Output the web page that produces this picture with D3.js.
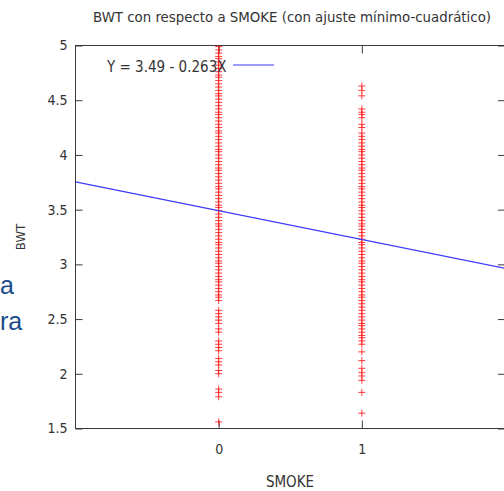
<!DOCTYPE html>
<html>
<head>
<meta charset="utf-8">
<script src="https://cdn.jsdelivr.net/npm/d3@7"></script>
<style>
  html, body { margin: 0; padding: 0; background: #fff; }
  svg { display: block; }
  text.cond { font-family: "DejaVu Sans Condensed", "DejaVu Sans", sans-serif; }
  text.slide { font-family: "Liberation Sans", Arial, sans-serif; }
</style>
</head>
<body>
<svg id="chart" width="504" height="491"></svg>
<script>
// Birth weight (kg) observed for non-smoking mothers (SMOKE = 0)
const bwtSmoke0 = [
  1.56, 1.79, 1.83, 1.86, 2.00, 2.03, 2.08, 2.11, 2.14, 2.21, 2.24, 2.27, 2.30,
  2.38, 2.41, 2.46, 2.49, 2.52, 2.55, 2.58, 2.67, 2.70,
  2.72, 2.75, 2.78, 2.81, 2.84, 2.86, 2.89, 2.92, 2.95, 2.98, 3.01, 3.03, 3.06,
  3.09, 3.12, 3.15, 3.18, 3.20, 3.23, 3.26, 3.29, 3.32, 3.35, 3.37, 3.40, 3.43,
  3.46, 3.49, 3.52, 3.54, 3.57, 3.60, 3.63, 3.66, 3.69, 3.71, 3.74, 3.77, 3.80,
  3.83, 3.86, 3.88, 3.91, 3.94, 3.97, 4.00, 4.03, 4.05, 4.08, 4.11, 4.14, 4.17,
  4.20, 4.22, 4.25, 4.28, 4.31, 4.34, 4.37, 4.39, 4.42, 4.45, 4.48, 4.51, 4.54,
  4.56, 4.59, 4.62, 4.65, 4.68, 4.71, 4.73, 4.76, 4.79, 4.82, 4.85, 4.88, 4.90,
  4.93, 4.96, 4.99
];
// Birth weight (kg) observed for smoking mothers (SMOKE = 1)
const bwtSmoke1 = [
  1.64, 1.83, 1.94, 1.98, 2.01, 2.05, 2.12, 2.20,
  2.27, 2.30, 2.33, 2.35, 2.38, 2.41, 2.44, 2.46, 2.49, 2.52, 2.55, 2.58, 2.61,
  2.64, 2.67, 2.70, 2.72, 2.75, 2.78, 2.81, 2.84, 2.86, 2.89, 2.92, 2.95, 2.98,
  3.01, 3.03, 3.06, 3.09, 3.12, 3.15, 3.18, 3.20, 3.23, 3.26, 3.29, 3.32, 3.35,
  3.37, 3.40, 3.43, 3.46, 3.49, 3.52, 3.54, 3.57, 3.60, 3.63, 3.66, 3.69, 3.71,
  3.74, 3.77, 3.80, 3.83, 3.86, 3.88, 3.91, 3.94, 3.97, 4.00, 4.03, 4.05, 4.08,
  4.11, 4.14, 4.17, 4.20, 4.25, 4.28, 4.34, 4.37, 4.39, 4.42,
  4.54, 4.59, 4.63
];
const smokeGroups = [0, 1];
const xTicks = [0, 1];
const yTicks = [1.5, 2, 2.5, 3, 3.5, 4, 4.5, 5];
// Least-squares fit: Y = a + b X
const fitIntercept = 3.49;
const fitSlope = -0.263;
const fitLabel = "Y = 3.49 - 0.263X";
const titleText = "BWT con respecto a SMOKE (con ajuste mínimo-cuadrático)";

const svg = d3.select("#chart");
const plot = { left: 75.5, right: 505, top: 45.5, bottom: 428.5 };

const x = d3.scaleLinear().domain([-1, 2]).range([plot.left, plot.right]);
const y = d3.scaleLinear().domain([1.5, 5]).range([plot.bottom, plot.top]);

const axisColor = "#3a3a3a";
const textColor = "#333";

// Side text from the surrounding slide
const slide = svg.append("g").attr("fill", "#1b4d8a");
slide.append("text").attr("class", "slide").attr("x", 0).attr("y", 294)
  .attr("font-size", 25).text("a");
slide.append("text").attr("class", "slide").attr("x", 0).attr("y", 330)
  .attr("font-size", 25).text("ra");

// Title
svg.append("text").attr("class", "cond")
  .attr("x", 292).attr("y", 22)
  .attr("text-anchor", "middle").attr("font-size", 14.5).attr("fill", textColor)
  .attr("textLength", 398).attr("lengthAdjust", "spacingAndGlyphs")
  .text(titleText);

svg.append("clipPath").attr("id", "plotclip").append("rect")
  .attr("x", plot.left).attr("y", plot.top)
  .attr("width", plot.right - plot.left).attr("height", plot.bottom - plot.top);

// Frame
svg.append("rect")
  .attr("x", plot.left).attr("y", plot.top)
  .attr("width", plot.right - plot.left).attr("height", plot.bottom - plot.top)
  .attr("fill", "none").attr("stroke", axisColor).attr("stroke-width", 1);

// Axes (inward ticks, mirrored on the opposite side)
const gLeft = svg.append("g").attr("transform", `translate(${plot.left},0)`)
  .call(d3.axisLeft(y).tickValues(yTicks).tickSize(-7).tickPadding(8).tickFormat(d3.format("")));
const gRight = svg.append("g").attr("transform", `translate(${plot.right},0)`)
  .call(d3.axisRight(y).tickValues(yTicks).tickSize(-7).tickFormat(""));
const gBottom = svg.append("g").attr("transform", `translate(0,${plot.bottom})`)
  .call(d3.axisBottom(x).tickValues(xTicks).tickSize(-8).tickPadding(16).tickFormat(d3.format("d")));
const gTop = svg.append("g").attr("transform", `translate(0,${plot.top})`)
  .call(d3.axisTop(x).tickValues(xTicks).tickSize(-8).tickFormat(""));

[gLeft, gRight, gBottom, gTop].forEach(g => {
  g.select(".domain").remove();
  g.selectAll(".tick line").attr("stroke", axisColor);
  g.selectAll(".tick text").attr("class", "cond")
    .attr("fill", textColor).attr("font-size", 14);
});

// Axis titles
svg.append("text").attr("class", "cond")
  .attr("transform", "translate(25,237) rotate(-90)")
  .attr("text-anchor", "middle").attr("font-size", 13).attr("fill", textColor)
  .text("BWT");
svg.append("text").attr("class", "cond")
  .attr("x", 290).attr("y", 487)
  .attr("text-anchor", "middle").attr("font-size", 15).attr("fill", textColor)
  .text("SMOKE");

// Data points
const points = [];
bwtSmoke0.forEach(v => points.push({ s: smokeGroups[0], v }));
bwtSmoke1.forEach(v => points.push({ s: smokeGroups[1], v }));

const cross = "M-3.5,0H3.5M0,-3.5V3.5";
svg.append("g").attr("clip-path", "url(#plotclip)")
  .selectAll("path").data(points).join("path")
  .attr("transform", d => `translate(${x(d.s)},${y(d.v)})`)
  .attr("d", cross)
  .attr("stroke", "#ff1a1a").attr("stroke-width", 1).attr("stroke-opacity", 0.85)
  .attr("fill", "none");

// Fitted line
const fitColor = "#3b3bff";
const xs = x.domain();
svg.append("g").attr("clip-path", "url(#plotclip)")
  .append("line")
  .attr("x1", x(xs[0])).attr("y1", y(fitIntercept + fitSlope * xs[0]))
  .attr("x2", x(xs[1])).attr("y2", y(fitIntercept + fitSlope * xs[1]))
  .attr("stroke", fitColor).attr("stroke-width", 1.2);

// Legend
svg.append("text").attr("class", "cond")
  .attr("x", 107).attr("y", 72)
  .attr("font-size", 15).attr("fill", textColor)
  .text(fitLabel);
svg.append("line")
  .attr("x1", 233).attr("x2", 274).attr("y1", 65).attr("y2", 65)
  .attr("stroke", fitColor).attr("stroke-width", 1.2);
</script>
</body>
</html>
